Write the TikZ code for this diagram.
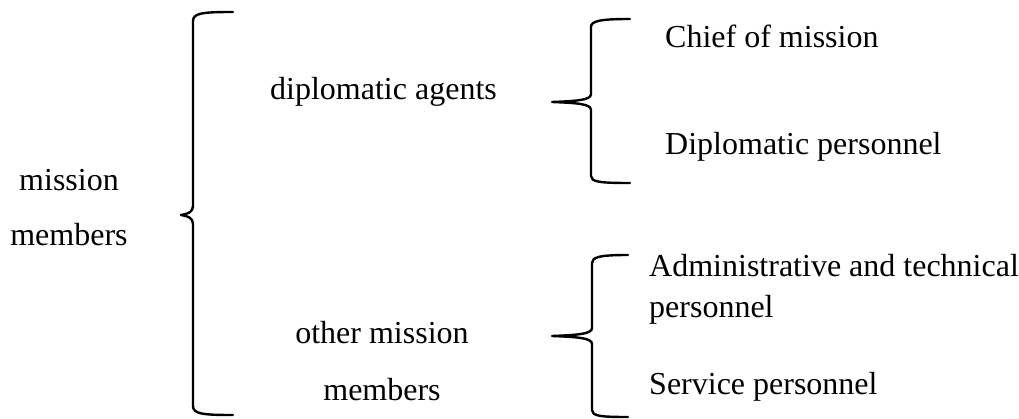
\documentclass[tikz,border=0pt]{standalone}
\usepackage{fontspec}
\setmainfont{Liberation Serif}
\begin{document}
\begin{tikzpicture}[x=1pt,y=-1pt,
  txt/.style={inner sep=0pt,font=\fontsize{32}{38}\selectfont},
  brace/.style={line width=2.4pt,line cap=round,line join=round}]
\useasboundingbox (0,0) rectangle (1019,419);
% texts
\node[txt,anchor=base] (mission) at (69,191) {mission};
\node[txt,anchor=base] (members) at (69,246) {members};
\node[txt,anchor=base west] (diplo) at (270,100) {diplomatic agents};
\node[txt,anchor=base] (other) at (382,343) {other mission};
\node[txt,anchor=base] (othermem) at (382,400) {members};
\node[txt,anchor=base west] (chief) at (665,48) {Chief of mission};
\node[txt,anchor=base west] (dpers) at (665,155) {Diplomatic personnel};
\node[txt,anchor=base west] (admin) at (649,277) {Administrative and technical};
\node[txt,anchor=base west] (adminp) at (649,318) {personnel};
\node[txt,anchor=base west] (service) at (649,394) {Service personnel};
% big brace
\draw[brace] (233,12) .. controls (203,12) and (193,13) .. (193,21)
  -- (193,206) .. controls (193,212) and (188,214) .. (181,215)
  .. controls (188,216) and (193,218) .. (193,224)
  -- (193,406) .. controls (193,414) and (203,415) .. (233,415);
% upper right brace
\draw[brace] (630,19) .. controls (600,19) and (591,21) .. (591,27)
  -- (591,94) .. controls (591,100) and (578,101) .. (552,102)
  .. controls (578,103) and (591,104) .. (591,110)
  -- (591,176) .. controls (591,182) and (600,183) .. (630,183);
% lower right brace
\draw[brace] (628,255) .. controls (600,255) and (592,257) .. (592,263)
  -- (592,328) .. controls (592,334) and (578,335) .. (552,336)
  .. controls (578,337) and (592,338) .. (592,344)
  -- (592,410) .. controls (592,416) and (600,417) .. (628,417);
\end{tikzpicture}
\end{document}
